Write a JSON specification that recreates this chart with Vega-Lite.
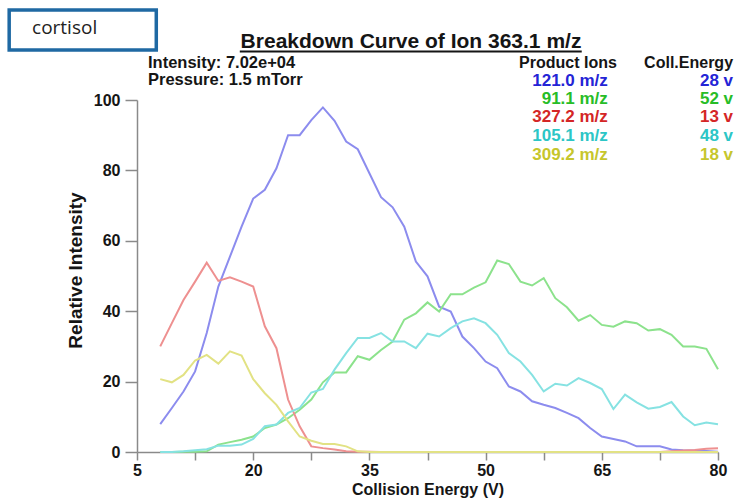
{
  "$schema": "https://vega.github.io/schema/vega-lite/v6.json",
  "autosize": {"type": "none"},
  "padding": {"left": 137, "top": 100, "right": 19, "bottom": 49},
  "width": 581,
  "height": 352,
  "background": "white",
  "data": {"values": [{}]},
  "config": {
    "view": {"stroke": null},
    "font": "Liberation Sans",
    "text": {"font": "Liberation Sans", "fontWeight": "bold", "fontSize": 17, "color": "#151515", "baseline": "middle"}
  },
  "datasets": {
    "curves": [
      {"ce": 8, "ion": "121.0 m/z", "ri": 7.9}, {"ce": 9.5, "ion": "121.0 m/z", "ri": 12.5}, {"ce": 11, "ion": "121.0 m/z", "ri": 17.2}, {"ce": 12.5, "ion": "121.0 m/z", "ri": 22.9}, {"ce": 14, "ion": "121.0 m/z", "ri": 33.8}, {"ce": 15.5, "ion": "121.0 m/z", "ri": 47}, {"ce": 17, "ion": "121.0 m/z", "ri": 55.5}, {"ce": 18.5, "ion": "121.0 m/z", "ri": 64}, {"ce": 20, "ion": "121.0 m/z", "ri": 72}, {"ce": 21.5, "ion": "121.0 m/z", "ri": 74.5}, {"ce": 23, "ion": "121.0 m/z", "ri": 80.6}, {"ce": 24.5, "ion": "121.0 m/z", "ri": 90}, {"ce": 26, "ion": "121.0 m/z", "ri": 90}, {"ce": 27.5, "ion": "121.0 m/z", "ri": 94.3}, {"ce": 29, "ion": "121.0 m/z", "ri": 97.9}, {"ce": 30.5, "ion": "121.0 m/z", "ri": 94.1}, {"ce": 32, "ion": "121.0 m/z", "ri": 88.2}, {"ce": 33.5, "ion": "121.0 m/z", "ri": 86}, {"ce": 35, "ion": "121.0 m/z", "ri": 79.2}, {"ce": 36.5, "ion": "121.0 m/z", "ri": 72.4}, {"ce": 38, "ion": "121.0 m/z", "ri": 69.5}, {"ce": 39.5, "ion": "121.0 m/z", "ri": 64}, {"ce": 41, "ion": "121.0 m/z", "ri": 54.1}, {"ce": 42.5, "ion": "121.0 m/z", "ri": 49.9}, {"ce": 44, "ion": "121.0 m/z", "ri": 41.3}, {"ce": 45.5, "ion": "121.0 m/z", "ri": 39.9}, {"ce": 47, "ion": "121.0 m/z", "ri": 32.8}, {"ce": 48.5, "ion": "121.0 m/z", "ri": 29.5}, {"ce": 50, "ion": "121.0 m/z", "ri": 25.7}, {"ce": 51.5, "ion": "121.0 m/z", "ri": 23.8}, {"ce": 53, "ion": "121.0 m/z", "ri": 18.6}, {"ce": 54.5, "ion": "121.0 m/z", "ri": 17.2}, {"ce": 56, "ion": "121.0 m/z", "ri": 14.4}, {"ce": 57.5, "ion": "121.0 m/z", "ri": 13.4}, {"ce": 59, "ion": "121.0 m/z", "ri": 12.5}, {"ce": 60.5, "ion": "121.0 m/z", "ri": 11.1}, {"ce": 62, "ion": "121.0 m/z", "ri": 9.6}, {"ce": 63.5, "ion": "121.0 m/z", "ri": 6.8}, {"ce": 65, "ion": "121.0 m/z", "ri": 4.4}, {"ce": 66.5, "ion": "121.0 m/z", "ri": 3.7}, {"ce": 68, "ion": "121.0 m/z", "ri": 3.0}, {"ce": 69.5, "ion": "121.0 m/z", "ri": 1.6}, {"ce": 71, "ion": "121.0 m/z", "ri": 1.6}, {"ce": 72.5, "ion": "121.0 m/z", "ri": 1.6}, {"ce": 74, "ion": "121.0 m/z", "ri": 0.7}, {"ce": 75.5, "ion": "121.0 m/z", "ri": 0.5}, {"ce": 77, "ion": "121.0 m/z", "ri": 0.4}, {"ce": 78.5, "ion": "121.0 m/z", "ri": 0.3}, {"ce": 80, "ion": "121.0 m/z", "ri": 0.1},
      {"ce": 8, "ion": "91.1 m/z", "ri": 0}, {"ce": 9.5, "ion": "91.1 m/z", "ri": 0}, {"ce": 11, "ion": "91.1 m/z", "ri": 0.1}, {"ce": 12.5, "ion": "91.1 m/z", "ri": 0.1}, {"ce": 14, "ion": "91.1 m/z", "ri": 0.2}, {"ce": 15.5, "ion": "91.1 m/z", "ri": 2.1}, {"ce": 17, "ion": "91.1 m/z", "ri": 2.8}, {"ce": 18.5, "ion": "91.1 m/z", "ri": 3.5}, {"ce": 20, "ion": "91.1 m/z", "ri": 4.4}, {"ce": 21.5, "ion": "91.1 m/z", "ri": 6.8}, {"ce": 23, "ion": "91.1 m/z", "ri": 7.8}, {"ce": 24.5, "ion": "91.1 m/z", "ri": 9.6}, {"ce": 26, "ion": "91.1 m/z", "ri": 12}, {"ce": 27.5, "ion": "91.1 m/z", "ri": 14.9}, {"ce": 29, "ion": "91.1 m/z", "ri": 19.8}, {"ce": 30.5, "ion": "91.1 m/z", "ri": 22.6}, {"ce": 32, "ion": "91.1 m/z", "ri": 22.6}, {"ce": 33.5, "ion": "91.1 m/z", "ri": 27.2}, {"ce": 35, "ion": "91.1 m/z", "ri": 26.2}, {"ce": 36.5, "ion": "91.1 m/z", "ri": 29}, {"ce": 38, "ion": "91.1 m/z", "ri": 31.4}, {"ce": 39.5, "ion": "91.1 m/z", "ri": 37.6}, {"ce": 41, "ion": "91.1 m/z", "ri": 39.4}, {"ce": 42.5, "ion": "91.1 m/z", "ri": 42.5}, {"ce": 44, "ion": "91.1 m/z", "ri": 39.9}, {"ce": 45.5, "ion": "91.1 m/z", "ri": 44.8}, {"ce": 47, "ion": "91.1 m/z", "ri": 44.8}, {"ce": 48.5, "ion": "91.1 m/z", "ri": 46.7}, {"ce": 50, "ion": "91.1 m/z", "ri": 48.2}, {"ce": 51.5, "ion": "91.1 m/z", "ri": 54.4}, {"ce": 53, "ion": "91.1 m/z", "ri": 53.4}, {"ce": 54.5, "ion": "91.1 m/z", "ri": 48.4}, {"ce": 56, "ion": "91.1 m/z", "ri": 47.3}, {"ce": 57.5, "ion": "91.1 m/z", "ri": 49.4}, {"ce": 59, "ion": "91.1 m/z", "ri": 43.7}, {"ce": 60.5, "ion": "91.1 m/z", "ri": 41.1}, {"ce": 62, "ion": "91.1 m/z", "ri": 37.3}, {"ce": 63.5, "ion": "91.1 m/z", "ri": 38.9}, {"ce": 65, "ion": "91.1 m/z", "ri": 36.1}, {"ce": 66.5, "ion": "91.1 m/z", "ri": 35.6}, {"ce": 68, "ion": "91.1 m/z", "ri": 37.1}, {"ce": 69.5, "ion": "91.1 m/z", "ri": 36.6}, {"ce": 71, "ion": "91.1 m/z", "ri": 34.5}, {"ce": 72.5, "ion": "91.1 m/z", "ri": 34.9}, {"ce": 74, "ion": "91.1 m/z", "ri": 33.3}, {"ce": 75.5, "ion": "91.1 m/z", "ri": 30}, {"ce": 77, "ion": "91.1 m/z", "ri": 30}, {"ce": 78.5, "ion": "91.1 m/z", "ri": 29.3}, {"ce": 80, "ion": "91.1 m/z", "ri": 23.5},
      {"ce": 8, "ion": "327.2 m/z", "ri": 30}, {"ce": 9.5, "ion": "327.2 m/z", "ri": 36.6}, {"ce": 11, "ion": "327.2 m/z", "ri": 43.2}, {"ce": 12.5, "ion": "327.2 m/z", "ri": 48.4}, {"ce": 14, "ion": "327.2 m/z", "ri": 53.8}, {"ce": 15.5, "ion": "327.2 m/z", "ri": 48.6}, {"ce": 17, "ion": "327.2 m/z", "ri": 49.6}, {"ce": 18.5, "ion": "327.2 m/z", "ri": 48.4}, {"ce": 20, "ion": "327.2 m/z", "ri": 47}, {"ce": 21.5, "ion": "327.2 m/z", "ri": 35.7}, {"ce": 23, "ion": "327.2 m/z", "ri": 29.5}, {"ce": 24.5, "ion": "327.2 m/z", "ri": 14.9}, {"ce": 26, "ion": "327.2 m/z", "ri": 7.3}, {"ce": 27.5, "ion": "327.2 m/z", "ri": 1.6}, {"ce": 29, "ion": "327.2 m/z", "ri": 1.1}, {"ce": 30.5, "ion": "327.2 m/z", "ri": 0.7}, {"ce": 32, "ion": "327.2 m/z", "ri": 0.2}, {"ce": 33.5, "ion": "327.2 m/z", "ri": 0.1}, {"ce": 35, "ion": "327.2 m/z", "ri": 0.1}, {"ce": 36.5, "ion": "327.2 m/z", "ri": 0}, {"ce": 38, "ion": "327.2 m/z", "ri": 0}, {"ce": 39.5, "ion": "327.2 m/z", "ri": 0}, {"ce": 41, "ion": "327.2 m/z", "ri": 0}, {"ce": 42.5, "ion": "327.2 m/z", "ri": 0}, {"ce": 44, "ion": "327.2 m/z", "ri": 0}, {"ce": 45.5, "ion": "327.2 m/z", "ri": 0}, {"ce": 47, "ion": "327.2 m/z", "ri": 0}, {"ce": 48.5, "ion": "327.2 m/z", "ri": 0}, {"ce": 50, "ion": "327.2 m/z", "ri": 0}, {"ce": 51.5, "ion": "327.2 m/z", "ri": 0}, {"ce": 53, "ion": "327.2 m/z", "ri": 0}, {"ce": 54.5, "ion": "327.2 m/z", "ri": 0}, {"ce": 56, "ion": "327.2 m/z", "ri": 0}, {"ce": 57.5, "ion": "327.2 m/z", "ri": 0}, {"ce": 59, "ion": "327.2 m/z", "ri": 0}, {"ce": 60.5, "ion": "327.2 m/z", "ri": 0}, {"ce": 62, "ion": "327.2 m/z", "ri": 0}, {"ce": 63.5, "ion": "327.2 m/z", "ri": 0}, {"ce": 65, "ion": "327.2 m/z", "ri": 0}, {"ce": 66.5, "ion": "327.2 m/z", "ri": 0}, {"ce": 68, "ion": "327.2 m/z", "ri": 0}, {"ce": 69.5, "ion": "327.2 m/z", "ri": 0}, {"ce": 71, "ion": "327.2 m/z", "ri": 0}, {"ce": 72.5, "ion": "327.2 m/z", "ri": 0}, {"ce": 74, "ion": "327.2 m/z", "ri": 0.2}, {"ce": 75.5, "ion": "327.2 m/z", "ri": 0.4}, {"ce": 77, "ion": "327.2 m/z", "ri": 0.6}, {"ce": 78.5, "ion": "327.2 m/z", "ri": 0.9}, {"ce": 80, "ion": "327.2 m/z", "ri": 1.1},
      {"ce": 8, "ion": "105.1 m/z", "ri": 0}, {"ce": 9.5, "ion": "105.1 m/z", "ri": 0}, {"ce": 11, "ion": "105.1 m/z", "ri": 0.2}, {"ce": 12.5, "ion": "105.1 m/z", "ri": 0.5}, {"ce": 14, "ion": "105.1 m/z", "ri": 0.8}, {"ce": 15.5, "ion": "105.1 m/z", "ri": 1.8}, {"ce": 17, "ion": "105.1 m/z", "ri": 1.8}, {"ce": 18.5, "ion": "105.1 m/z", "ri": 2.1}, {"ce": 20, "ion": "105.1 m/z", "ri": 3.7}, {"ce": 21.5, "ion": "105.1 m/z", "ri": 7.3}, {"ce": 23, "ion": "105.1 m/z", "ri": 7.8}, {"ce": 24.5, "ion": "105.1 m/z", "ri": 11.1}, {"ce": 26, "ion": "105.1 m/z", "ri": 12.5}, {"ce": 27.5, "ion": "105.1 m/z", "ri": 16.9}, {"ce": 29, "ion": "105.1 m/z", "ri": 17.9}, {"ce": 30.5, "ion": "105.1 m/z", "ri": 23.4}, {"ce": 32, "ion": "105.1 m/z", "ri": 28.1}, {"ce": 33.5, "ion": "105.1 m/z", "ri": 32.4}, {"ce": 35, "ion": "105.1 m/z", "ri": 32.4}, {"ce": 36.5, "ion": "105.1 m/z", "ri": 33.8}, {"ce": 38, "ion": "105.1 m/z", "ri": 31.4}, {"ce": 39.5, "ion": "105.1 m/z", "ri": 31.4}, {"ce": 41, "ion": "105.1 m/z", "ri": 29.5}, {"ce": 42.5, "ion": "105.1 m/z", "ri": 33.6}, {"ce": 44, "ion": "105.1 m/z", "ri": 32.8}, {"ce": 45.5, "ion": "105.1 m/z", "ri": 35.2}, {"ce": 47, "ion": "105.1 m/z", "ri": 37.1}, {"ce": 48.5, "ion": "105.1 m/z", "ri": 38}, {"ce": 50, "ion": "105.1 m/z", "ri": 36.6}, {"ce": 51.5, "ion": "105.1 m/z", "ri": 33.3}, {"ce": 53, "ion": "105.1 m/z", "ri": 28.1}, {"ce": 54.5, "ion": "105.1 m/z", "ri": 25.7}, {"ce": 56, "ion": "105.1 m/z", "ri": 21.9}, {"ce": 57.5, "ion": "105.1 m/z", "ri": 17.2}, {"ce": 59, "ion": "105.1 m/z", "ri": 19.4}, {"ce": 60.5, "ion": "105.1 m/z", "ri": 18.9}, {"ce": 62, "ion": "105.1 m/z", "ri": 21}, {"ce": 63.5, "ion": "105.1 m/z", "ri": 19.6}, {"ce": 65, "ion": "105.1 m/z", "ri": 17.9}, {"ce": 66.5, "ion": "105.1 m/z", "ri": 12.2}, {"ce": 68, "ion": "105.1 m/z", "ri": 16.3}, {"ce": 69.5, "ion": "105.1 m/z", "ri": 14.1}, {"ce": 71, "ion": "105.1 m/z", "ri": 12.3}, {"ce": 72.5, "ion": "105.1 m/z", "ri": 12.8}, {"ce": 74, "ion": "105.1 m/z", "ri": 14.2}, {"ce": 75.5, "ion": "105.1 m/z", "ri": 10.1}, {"ce": 77, "ion": "105.1 m/z", "ri": 7.6}, {"ce": 78.5, "ion": "105.1 m/z", "ri": 8.4}, {"ce": 80, "ion": "105.1 m/z", "ri": 7.9},
      {"ce": 8, "ion": "309.2 m/z", "ri": 20.7}, {"ce": 9.5, "ion": "309.2 m/z", "ri": 19.8}, {"ce": 11, "ion": "309.2 m/z", "ri": 21.9}, {"ce": 12.5, "ion": "309.2 m/z", "ri": 26}, {"ce": 14, "ion": "309.2 m/z", "ri": 27.6}, {"ce": 15.5, "ion": "309.2 m/z", "ri": 25.1}, {"ce": 17, "ion": "309.2 m/z", "ri": 28.6}, {"ce": 18.5, "ion": "309.2 m/z", "ri": 27.4}, {"ce": 20, "ion": "309.2 m/z", "ri": 20.7}, {"ce": 21.5, "ion": "309.2 m/z", "ri": 16.7}, {"ce": 23, "ion": "309.2 m/z", "ri": 13.4}, {"ce": 24.5, "ion": "309.2 m/z", "ri": 8.7}, {"ce": 26, "ion": "309.2 m/z", "ri": 4.4}, {"ce": 27.5, "ion": "309.2 m/z", "ri": 3.2}, {"ce": 29, "ion": "309.2 m/z", "ri": 2.3}, {"ce": 30.5, "ion": "309.2 m/z", "ri": 2.3}, {"ce": 32, "ion": "309.2 m/z", "ri": 1.6}, {"ce": 33.5, "ion": "309.2 m/z", "ri": 0.2}, {"ce": 35, "ion": "309.2 m/z", "ri": 0}, {"ce": 36.5, "ion": "309.2 m/z", "ri": 0}, {"ce": 38, "ion": "309.2 m/z", "ri": 0}, {"ce": 39.5, "ion": "309.2 m/z", "ri": 0}, {"ce": 41, "ion": "309.2 m/z", "ri": 0}, {"ce": 42.5, "ion": "309.2 m/z", "ri": 0}, {"ce": 44, "ion": "309.2 m/z", "ri": 0}, {"ce": 45.5, "ion": "309.2 m/z", "ri": 0}, {"ce": 47, "ion": "309.2 m/z", "ri": 0}, {"ce": 48.5, "ion": "309.2 m/z", "ri": 0}, {"ce": 50, "ion": "309.2 m/z", "ri": 0}, {"ce": 51.5, "ion": "309.2 m/z", "ri": 0}, {"ce": 53, "ion": "309.2 m/z", "ri": 0}, {"ce": 54.5, "ion": "309.2 m/z", "ri": 0}, {"ce": 56, "ion": "309.2 m/z", "ri": 0}, {"ce": 57.5, "ion": "309.2 m/z", "ri": 0}, {"ce": 59, "ion": "309.2 m/z", "ri": 0}, {"ce": 60.5, "ion": "309.2 m/z", "ri": 0}, {"ce": 62, "ion": "309.2 m/z", "ri": 0}, {"ce": 63.5, "ion": "309.2 m/z", "ri": 0}, {"ce": 65, "ion": "309.2 m/z", "ri": 0}, {"ce": 66.5, "ion": "309.2 m/z", "ri": 0}, {"ce": 68, "ion": "309.2 m/z", "ri": 0}, {"ce": 69.5, "ion": "309.2 m/z", "ri": 0}, {"ce": 71, "ion": "309.2 m/z", "ri": 0}, {"ce": 72.5, "ion": "309.2 m/z", "ri": 0}, {"ce": 74, "ion": "309.2 m/z", "ri": 0}, {"ce": 75.5, "ion": "309.2 m/z", "ri": 0}, {"ce": 77, "ion": "309.2 m/z", "ri": 0}, {"ce": 78.5, "ion": "309.2 m/z", "ri": 0}, {"ce": 80, "ion": "309.2 m/z", "ri": 0}
    ]
  },
  "layer": [
    {
      "data": {"name": "curves"},
      "mark": {"type": "line", "strokeWidth": 2},
      "encoding": {
        "x": {
          "field": "ce", "type": "quantitative",
          "scale": {"domain": [5, 80], "nice": false, "zero": false},
          "axis": {
            "title": "Collision Energy (V)",
            "values": [5, 12.5, 20, 27.5, 35, 42.5, 50, 57.5, 65, 72.5, 80],
            "labelExpr": "(datum.value - 5) % 15 == 0 ? format(datum.value, 'd') : ''",
            "labelFlush": false, "labelOverlap": false,
            "grid": false, "tickSize": 8, "tickColor": "#8a8a8a", "tickWidth": 1.5,
            "domainColor": "#8a8a8a", "domainWidth": 1.5,
            "labelFont": "Liberation Sans", "labelFontWeight": "bold", "labelFontSize": 16, "labelColor": "#151515", "labelPadding": 2,
            "titleFont": "Liberation Sans", "titleFontWeight": "bold", "titleFontSize": 16, "titleColor": "#151515", "titlePadding": 3
          }
        },
        "y": {
          "field": "ri", "type": "quantitative",
          "scale": {"domain": [0, 100], "nice": false},
          "axis": {
            "title": "Relative Intensity",
            "values": [0, 10, 20, 30, 40, 50, 60, 70, 80, 90, 100],
            "labelExpr": "datum.value % 20 == 0 ? datum.label : ''",
            "labelOverlap": false,
            "grid": false, "tickSize": 12, "tickColor": "#8a8a8a", "tickWidth": 1.5,
            "domainColor": "#8a8a8a", "domainWidth": 1.5,
            "labelFont": "Liberation Sans", "labelFontWeight": "bold", "labelFontSize": 16, "labelColor": "#151515", "labelPadding": 5,
            "titleFont": "Liberation Sans", "titleFontWeight": "bold", "titleFontSize": 19, "titleColor": "#151515", "titlePadding": 8, "titleY": 170
          }
        },
        "color": {
          "field": "ion", "type": "nominal",
          "scale": {"domain": ["121.0 m/z", "91.1 m/z", "327.2 m/z", "105.1 m/z", "309.2 m/z"], "range": ["#8c8cee", "#8ce28c", "#ee9090", "#86e2e2", "#e2e284"]},
          "legend": null
        }
      }
    },
    {
      "mark": {"type": "rect", "fill": "white", "stroke": "#1f69a3", "strokeWidth": 3.5},
      "encoding": {"x": {"datum": -11.5}, "x2": {"datum": 7.49}, "y": {"datum": 125.6}, "y2": {"datum": 114.2}}
    },
    {
      "mark": {"type": "text", "text": "cortisol", "font": "Open Sans", "fontWeight": "normal", "fontSize": 19, "color": "#222222", "align": "left"},
      "encoding": {"x": {"datum": -8.55}, "y": {"datum": 120.4}}
    },
    {
      "mark": {"type": "text", "text": "Breakdown Curve of Ion 363.1 m/z", "fontSize": 21, "align": "center"},
      "encoding": {"x": {"datum": 40.37}, "y": {"datum": 116.6}}
    },
    {
      "mark": {"type": "rule", "color": "#151515", "strokeWidth": 2},
      "encoding": {"x": {"datum": 18.27}, "x2": {"datum": 62.41}, "y": {"datum": 113.8}}
    },
    {
      "mark": {"type": "text", "text": "Intensity: 7.02e+04", "align": "left", "fontSize": 16.5},
      "encoding": {"x": {"datum": 6.42}, "y": {"datum": 110.5}}
    },
    {
      "mark": {"type": "text", "text": "Pressure: 1.5 mTorr", "align": "left", "fontSize": 16.5},
      "encoding": {"x": {"datum": 6.42}, "y": {"datum": 105.7}}
    },
    {
      "mark": {"type": "text", "text": "Product Ions", "align": "right", "fontSize": 16},
      "encoding": {"x": {"datum": 66.94}, "y": {"datum": 110.5}}
    },
    {
      "mark": {"type": "text", "text": "Coll.Energy", "align": "right", "fontSize": 16},
      "encoding": {"x": {"datum": 81.94}, "y": {"datum": 110.5}}
    },
    {"mark": {"type": "text", "text": "121.0 m/z", "align": "right", "color": "#2424d6"}, "encoding": {"x": {"datum": 65.78}, "y": {"datum": 105.4}}},
    {"mark": {"type": "text", "text": "28 v", "align": "right", "color": "#2424d6"}, "encoding": {"x": {"datum": 81.94}, "y": {"datum": 105.4}}},
    {"mark": {"type": "text", "text": "91.1 m/z", "align": "right", "color": "#27bd27"}, "encoding": {"x": {"datum": 65.78}, "y": {"datum": 100.28}}},
    {"mark": {"type": "text", "text": "52 v", "align": "right", "color": "#27bd27"}, "encoding": {"x": {"datum": 81.94}, "y": {"datum": 100.28}}},
    {"mark": {"type": "text", "text": "327.2 m/z", "align": "right", "color": "#d42626"}, "encoding": {"x": {"datum": 65.78}, "y": {"datum": 95.03}}},
    {"mark": {"type": "text", "text": "13 v", "align": "right", "color": "#d42626"}, "encoding": {"x": {"datum": 81.94}, "y": {"datum": 95.03}}},
    {"mark": {"type": "text", "text": "105.1 m/z", "align": "right", "color": "#2cc6c6"}, "encoding": {"x": {"datum": 65.78}, "y": {"datum": 89.77}}},
    {"mark": {"type": "text", "text": "48 v", "align": "right", "color": "#2cc6c6"}, "encoding": {"x": {"datum": 81.94}, "y": {"datum": 89.77}}},
    {"mark": {"type": "text", "text": "309.2 m/z", "align": "right", "color": "#c6c62c"}, "encoding": {"x": {"datum": 65.78}, "y": {"datum": 84.38}}},
    {"mark": {"type": "text", "text": "18 v", "align": "right", "color": "#c6c62c"}, "encoding": {"x": {"datum": 81.94}, "y": {"datum": 84.38}}}
  ]
}
